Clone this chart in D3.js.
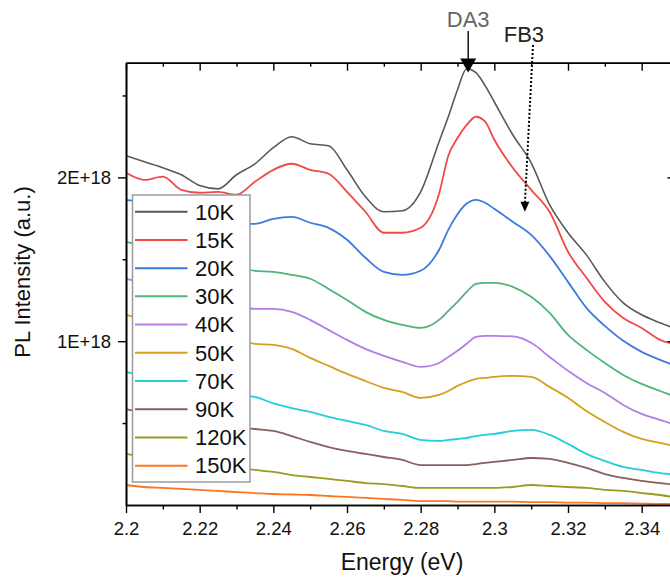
<!DOCTYPE html>
<html>
<head>
<meta charset="utf-8">
<script src="https://cdn.jsdelivr.net/npm/d3@7"></script>
<style>
  body { margin: 0; background: #fff; }
  svg { display: block; font-family: "Liberation Sans", Arial, sans-serif; }
</style>
</head>
<body>
<svg id="chart" width="670" height="577"></svg>
<script>
// photon energy (eV) and PL intensity per temperature, in units of 1E+18
const energy = [2.200, 2.205, 2.210, 2.215, 2.220, 2.225, 2.230, 2.235, 2.240, 2.245, 2.250, 2.255,
  2.260, 2.265, 2.270, 2.275, 2.280, 2.285, 2.2875, 2.290, 2.2925, 2.295, 2.2975, 2.300, 2.305,
  2.310, 2.315, 2.320, 2.325, 2.330, 2.335, 2.340, 2.345, 2.350];

const k10 = [2.132, 2.095, 2.059, 2.016, 1.950, 1.930, 2.016, 2.083, 2.181, 2.248, 2.205, 2.193,
  2.046, 1.882, 1.790, 1.796, 1.912, 2.218, 2.370, 2.535, 2.663, 2.640, 2.560, 2.460, 2.260,
  2.089, 1.833, 1.662, 1.527, 1.362, 1.234, 1.161, 1.112, 1.069];
const k15 = [2.028, 1.985, 2.004, 1.924, 1.906, 1.912, 1.894, 1.973, 2.046, 2.083, 2.046, 2.022,
  1.912, 1.790, 1.662, 1.662, 1.692, 1.900, 2.132, 2.240, 2.320, 2.370, 2.340, 2.230, 2.059,
  1.924, 1.790, 1.546, 1.387, 1.240, 1.142, 1.081, 1.008, 0.977];
const k20 = [1.863, 1.845, 1.820, 1.790, 1.765, 1.741, 1.716, 1.716, 1.747, 1.759, 1.723, 1.692,
  1.619, 1.509, 1.423, 1.405, 1.430, 1.558, 1.680, 1.775, 1.840, 1.863, 1.845, 1.808, 1.729,
  1.649, 1.521, 1.362, 1.203, 1.093, 1.002, 0.935, 0.886, 0.843];
const k30 = [1.607, 1.582, 1.558, 1.527, 1.509, 1.484, 1.460, 1.429, 1.423, 1.405, 1.381, 1.319,
  1.252, 1.179, 1.130, 1.100, 1.081, 1.130, 1.185, 1.240, 1.301, 1.350, 1.356, 1.356, 1.332,
  1.271, 1.173, 1.038, 0.947, 0.867, 0.794, 0.739, 0.696, 0.654];
const k40 = [1.381, 1.356, 1.326, 1.295, 1.265, 1.240, 1.216, 1.197, 1.197, 1.179, 1.130, 1.069,
  1.008, 0.953, 0.910, 0.874, 0.843, 0.867, 0.904, 0.941, 0.984, 1.026, 1.032, 1.032, 1.029,
  0.990, 0.904, 0.819, 0.745, 0.684, 0.611, 0.556, 0.519, 0.483];
const k50 = [1.161, 1.130, 1.100, 1.069, 1.045, 1.020, 1.002, 0.984, 0.977, 0.953, 0.898, 0.849,
  0.800, 0.757, 0.715, 0.690, 0.654, 0.672, 0.696, 0.727, 0.751, 0.770, 0.776, 0.782, 0.788,
  0.782, 0.721, 0.654, 0.574, 0.507, 0.446, 0.403, 0.379, 0.354];
const k70 = [0.812, 0.788, 0.764, 0.739, 0.715, 0.690, 0.672, 0.660, 0.620, 0.592, 0.568, 0.538,
  0.513, 0.489, 0.452, 0.434, 0.397, 0.391, 0.397, 0.403, 0.409, 0.421, 0.428, 0.434, 0.452,
  0.458, 0.428, 0.373, 0.312, 0.269, 0.232, 0.214, 0.195, 0.183];
const k90 = [0.586, 0.562, 0.544, 0.525, 0.507, 0.489, 0.476, 0.464, 0.452, 0.421, 0.385, 0.354,
  0.330, 0.312, 0.293, 0.275, 0.244, 0.244, 0.244, 0.244, 0.244, 0.250, 0.257, 0.263, 0.275,
  0.287, 0.281, 0.257, 0.226, 0.189, 0.165, 0.147, 0.134, 0.122];
const k120 = [0.312, 0.293, 0.275, 0.263, 0.250, 0.238, 0.226, 0.214, 0.202, 0.183, 0.171, 0.159,
  0.147, 0.134, 0.128, 0.116, 0.104, 0.104, 0.104, 0.104, 0.104, 0.104, 0.104, 0.104, 0.110,
  0.122, 0.116, 0.110, 0.104, 0.092, 0.086, 0.073, 0.061, 0.043];
const k150 = [0.122, 0.110, 0.104, 0.098, 0.092, 0.086, 0.079, 0.073, 0.067, 0.064, 0.061, 0.055,
  0.049, 0.043, 0.037, 0.031, 0.024, 0.024, 0.024, 0.021, 0.021, 0.021, 0.021, 0.021, 0.021,
  0.018, 0.018, 0.015, 0.015, 0.012, 0.012, 0.009, 0.006, 0.006];

const seriesNames = ["10K", "15K", "20K", "30K", "40K", "50K", "70K", "90K", "120K", "150K"];
const seriesValues = [k10, k15, k20, k30, k40, k50, k70, k90, k120, k150];
const seriesColors = ["#595959", "#f24848", "#3a7be0", "#4db57a", "#b27ee6", "#d4a020",
  "#22cfd6", "#8c5e5e", "#9a9a22", "#ff7420"];

const xMajor = [2.20, 2.22, 2.24, 2.26, 2.28, 2.30, 2.32, 2.34];
const xMajorLabels = ["2.2", "2.22", "2.24", "2.26", "2.28", "2.3", "2.32", "2.34"];
const xMinor = [2.21, 2.23, 2.25, 2.27, 2.29, 2.31, 2.33, 2.35];
const yMajor = [1, 2];
const yMajorLabels = ["1E+18", "2E+18"];
const yMinor = [0.5, 1.5, 2.5];

// peak markers: energy of arrow tip, intensity of arrow tip
const peakNames = ["DA3", "FB3"];
const peakTipEnergy = [2.2929, 2.3083];
const peakTipValue = [2.64, 1.79];
const peakTailEnergy = [2.2929, 2.3105];

const svg = d3.select("#chart");
const x = d3.scaleLinear().domain([2.2, 2.35]).range([126, 678.5]);
const y = d3.scaleLinear().domain([0, 2.7]).range([505, 62.7]);

svg.append("rect").attr("width", 670).attr("height", 577).attr("fill", "#fff");

svg.append("clipPath").attr("id", "plotClip")
  .append("rect")
  .attr("x", x.range()[0]).attr("y", y.range()[1])
  .attr("width", x.range()[1] - x.range()[0])
  .attr("height", y.range()[0] - y.range()[1]);

const line = d3.line()
  .x((d, i) => x(energy[i]))
  .y(d => y(d))
  .curve(d3.curveMonotoneX);

svg.append("g")
  .attr("clip-path", "url(#plotClip)")
  .selectAll("path")
  .data(seriesValues)
  .join("path")
  .attr("d", line)
  .attr("fill", "none")
  .attr("stroke", (d, i) => seriesColors[i])
  .attr("stroke-width", (d, i) => i === 0 ? 1.6 : 1.8)
  .attr("stroke-linejoin", "round");

// legend
const legend = svg.append("g");
legend.append("rect")
  .attr("x", 132.5).attr("y", 195)
  .attr("width", 117.5).attr("height", 287)
  .attr("fill", "#fff")
  .attr("stroke", "#9a9a9a")
  .attr("stroke-width", 1.5);

const entry = legend.selectAll("g.entry")
  .data(seriesNames)
  .join("g")
  .attr("class", "entry")
  .attr("transform", (d, i) => `translate(0,${211.7 + i * 28.22})`);

entry.append("line")
  .attr("x1", 135).attr("x2", 187.5)
  .attr("stroke", (d, i) => seriesColors[i])
  .attr("stroke-width", 2);

entry.append("text")
  .attr("x", 195).attr("y", 7.8)
  .attr("font-size", 22)
  .attr("fill", "#111")
  .text(d => d);

// axes
function styleAxis(g) {
  g.select(".domain").attr("stroke", "#000").attr("stroke-width", 1.6);
  g.selectAll(".tick line").attr("stroke", "#000").attr("stroke-width", 1.4);
  g.selectAll(".tick text").attr("fill", "#111").attr("font-size", 18.5)
    .attr("font-family", "'Liberation Sans', Arial, sans-serif");
}

const yBottom = y.range()[0];
const yTop = y.range()[1];
const xLeft = x.range()[0];
const xRight = x.range()[1];

svg.append("g")
  .attr("transform", `translate(0,${yBottom})`)
  .call(d3.axisBottom(x).tickValues(xMinor).tickSize(4.5).tickSizeOuter(0).tickFormat(""))
  .call(styleAxis);
svg.append("g")
  .attr("transform", `translate(0,${yBottom})`)
  .call(d3.axisBottom(x).tickValues(xMajor).tickSize(8).tickSizeOuter(0).tickPadding(9)
    .tickFormat((d, i) => xMajorLabels[i]))
  .call(styleAxis);

svg.append("g")
  .attr("transform", `translate(0,${yTop})`)
  .call(d3.axisTop(x).tickValues(xMinor).tickSize(-4).tickSizeOuter(0).tickFormat(""))
  .call(styleAxis);
svg.append("g")
  .attr("transform", `translate(0,${yTop})`)
  .call(d3.axisTop(x).tickValues(xMajor).tickSize(-8).tickSizeOuter(0).tickFormat(""))
  .call(styleAxis);

svg.append("g")
  .attr("transform", `translate(${xLeft},0)`)
  .call(d3.axisLeft(y).tickValues(yMinor).tickSize(3.5).tickSizeOuter(0).tickFormat(""))
  .call(styleAxis);
svg.append("g")
  .attr("transform", `translate(${xLeft},0)`)
  .call(d3.axisLeft(y).tickValues(yMajor).tickSize(8).tickSizeOuter(0).tickPadding(7)
    .tickFormat((d, i) => yMajorLabels[i]))
  .call(styleAxis);

svg.append("g")
  .attr("transform", `translate(${xRight},0)`)
  .call(d3.axisRight(y).tickValues(yMajor).tickSize(-11).tickSizeOuter(0).tickFormat(""))
  .call(styleAxis);

// axis titles
svg.append("text")
  .attr("x", 402).attr("y", 570)
  .attr("text-anchor", "middle")
  .attr("font-size", 23)
  .attr("fill", "#111")
  .text("Energy (eV)");

svg.append("text")
  .attr("transform", "translate(30,272) rotate(-90)")
  .attr("text-anchor", "middle")
  .attr("font-size", 22)
  .attr("fill", "#111")
  .text("PL Intensity (a.u.)");

// peak annotations
const da3 = { x: x(peakTipEnergy[0]), tip: y(peakTipValue[0]) };
svg.append("text")
  .attr("x", x(peakTailEnergy[0])).attr("y", 27)
  .attr("text-anchor", "middle")
  .attr("font-size", 22)
  .attr("fill", "#666")
  .text(peakNames[0]);
svg.append("line")
  .attr("x1", x(peakTailEnergy[0])).attr("y1", 31)
  .attr("x2", da3.x).attr("y2", da3.tip - 12)
  .attr("stroke", "#000").attr("stroke-width", 1.4);
svg.append("path")
  .attr("d", `M${da3.x - 8},${da3.tip - 14}L${da3.x + 8},${da3.tip - 14}L${da3.x},${da3.tip}Z`)
  .attr("fill", "#000");

const fb3 = { x: x(peakTipEnergy[1]), tip: y(peakTipValue[1]), tail: x(peakTailEnergy[1]) };
svg.append("text")
  .attr("x", fb3.x - 1).attr("y", 41.5)
  .attr("text-anchor", "middle")
  .attr("font-size", 22)
  .attr("fill", "#222")
  .text(peakNames[1]);
svg.append("line")
  .attr("x1", fb3.tail).attr("y1", 45)
  .attr("x2", fb3.x).attr("y2", fb3.tip - 9)
  .attr("stroke", "#000").attr("stroke-width", 2)
  .attr("stroke-dasharray", "2,2");
svg.append("path")
  .attr("d", `M${fb3.x - 4.5},${fb3.tip - 10}L${fb3.x + 4.5},${fb3.tip - 10}L${fb3.x},${fb3.tip}Z`)
  .attr("fill", "#000");
</script>
</body>
</html>
